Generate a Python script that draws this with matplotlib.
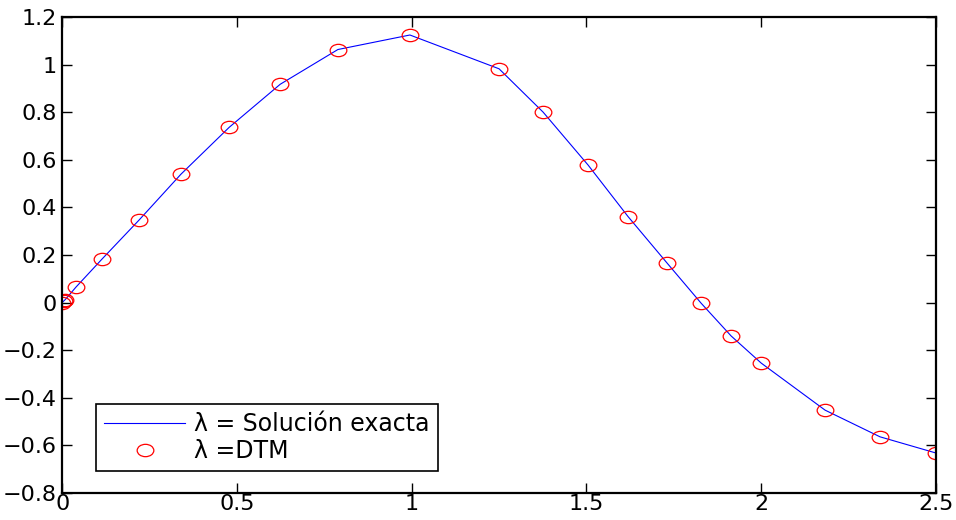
import matplotlib
matplotlib.use("Agg")
import matplotlib.pyplot as plt
from matplotlib.path import Path
from matplotlib.transforms import Affine2D

plt.rcParams['font.family'] = ['DejaVu Sans']

# valores
t = [0.0, 0.004, 0.009, 0.040, 0.114, 0.220, 0.340, 0.478, 0.624, 0.789,
     0.995, 1.250, 1.376, 1.505, 1.619, 1.731, 1.828, 1.914, 2.000, 2.183,
     2.340, 2.500]
exacta = [0.0, 0.006, 0.013, 0.066, 0.183, 0.347, 0.540, 0.737, 0.918, 1.064,
          1.125, 0.983, 0.801, 0.578, 0.362, 0.166, -0.002, -0.140, -0.254,
          -0.452, -0.564, -0.632]
dtm = exacta

xticks = [0, 0.5, 1, 1.5, 2, 2.5]
yticks = [-0.8, -0.6, -0.4, -0.2, 0, 0.2, 0.4, 0.6, 0.8, 1, 1.2]

# marcador eliptico (la imagen original esta estirada)
elipse = Path.unit_circle().transformed(Affine2D().scale(1.35, 1.0))

fig = plt.figure(figsize=(9.56, 5.2), dpi=100)
ax = fig.add_axes([0.065, 0.052, 0.914, 0.915])

ax.plot(t, exacta, color="blue", lw=0.8, label="λ = Solución exacta")
ax.plot(t, dtm, linestyle="none", marker=elipse, ms=12, mfc="none",
        mec="red", mew=0.9, label="λ =DTM")

ax.set_xlim(0, 2.5)
ax.set_ylim(-0.8, 1.2)
ax.set_xticks(xticks)
ax.set_xticklabels(["0", "0.5", "1", "1.5", "2", "2.5"])
ax.set_yticks(yticks)
ax.set_yticklabels(["\u22120.8", "\u22120.6", "\u22120.4", "\u22120.2", "0",
                    "0.2", "0.4", "0.6", "0.8", "1", "1.2"])
ax.tick_params(direction="in", top=True, right=True, length=7, width=1,
               labelsize=16)
ax.tick_params(axis="x", pad=1)
ax.tick_params(axis="y", pad=4)
for s in ax.spines.values():
    s.set_linewidth(1.6)

leg = ax.legend(loc="lower left", bbox_to_anchor=(0.039, 0.046), fontsize=17,
                fancybox=False, framealpha=1, edgecolor="black",
                handlelength=3.4, handletextpad=0.4, borderpad=0.35,
                labelspacing=0.1, borderaxespad=0)
leg.get_frame().set_linewidth(1.2)

fig.savefig("out.png", dpi=100)
